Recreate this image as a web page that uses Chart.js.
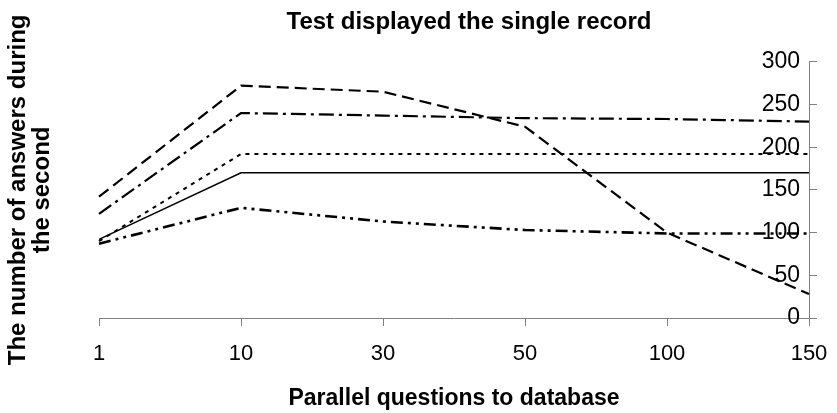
<!DOCTYPE html>
<html>
<head>
<meta charset="utf-8">
<script src="https://cdn.jsdelivr.net/npm/chart.js@4"></script>
<style>
  html, body { margin: 0; padding: 0; background: #fff; }
  #wrap { width: 837px; height: 413px; }
</style>
</head>
<body>
<div id="wrap"><canvas id="myChart" width="837" height="413"></canvas></div>
<script>
'use strict';

// categories on the x axis
let categories = ['1', '10', '30', '50', '100', '150'];

// values, one array per line
let longDash = [142, 272, 265, 224, 100, 28];
let dashDot = [122, 240, 237, 234, 233, 230];
let dotted = [90, 192, 192, 192, 192, 192];
let solid = [92, 170, 170, 170, 170, 170];
let dashDotDot = [87, 129, 113, 103, 99, 99];

let yTicks = [0, 50, 100, 150, 200, 250, 300];

let fontName = '"Liberation Sans", Arial, sans-serif';
let axisGray = '#808080';

function makeLine(label, values, dash, width){
  return {
    label: label,
    data: values,
    borderColor: '#000',
    backgroundColor: '#000',
    borderWidth: width,
    borderDash: dash,
    pointRadius: 0,
    tension: 0,
    fill: false
  };
}

// the title in the picture sits a bit right of the plot centre
const titleShift = {
  id: 'titleShift',
  afterLayout(chart){
    chart.titleBlock.left += 15;
    chart.titleBlock.right += 15;
  }
};

const ctx = document.getElementById('myChart');

new Chart(ctx, {
  type: 'line',
  data: {
    labels: categories,
    datasets: [
      makeLine('long dash', longDash, [12, 6], 2.2),
      makeLine('dash dot', dashDot, [15, 5, 3, 5], 2.2),
      makeLine('dotted', dotted, [4, 5], 2),
      makeLine('solid', solid, [], 1.5),
      makeLine('dash dot dot', dashDotDot, [12, 5, 3, 5, 3, 5], 2.6)
    ]
  },
  plugins: [titleShift],
  options: {
    responsive: false,
    animation: false,
    layout: {
      autoPadding: false,
      padding: 0
    },
    plugins: {
      legend: { display: false },
      tooltip: { enabled: false },
      title: {
        display: true,
        fullSize: false,
        text: 'Test displayed the single record',
        color: '#000',
        font: { family: fontName, size: 24, weight: 'bold', lineHeight: 1.2 },
        padding: { top: 8, bottom: 25 }
      }
    },
    scales: {
      x: {
        type: 'category',
        offset: false,
        grid: {
          drawOnChartArea: false,
          drawTicks: true,
          tickLength: 8,
          color: axisGray
        },
        border: { display: true, color: axisGray, width: 1 },
        ticks: {
          color: '#000',
          font: { family: fontName, size: 22 },
          padding: 15,
          maxRotation: 0
        },
        afterFit: function(scale){
          scale.height = 95;
          // the side axes already leave room for the end labels
          scale.paddingLeft = 0;
          scale.paddingRight = 0;
        },
        title: {
          display: true,
          text: 'Parallel questions to database',
          color: '#000',
          font: { family: fontName, size: 23, weight: 'bold', lineHeight: 1.2 },
          padding: { top: 0, bottom: 1 }
        }
      },
      y: {
        position: 'right',
        min: 0,
        max: 300,
        afterBuildTicks: function(scale){
          scale.ticks = yTicks.map(function(v){ return { value: v }; });
        },
        afterFit: function(scale){
          scale.width = 28;
        },
        grid: {
          drawOnChartArea: false,
          drawTicks: true,
          tickLength: 8,
          color: axisGray
        },
        border: { display: true, color: axisGray, width: 1 },
        ticks: {
          mirror: true,
          padding: -9,
          color: '#000',
          font: { family: fontName, size: 23 }
        }
      },
      yTitle: {
        position: 'left',
        display: true,
        min: 0,
        max: 300,
        grid: { display: false, drawTicks: false },
        border: { display: false },
        ticks: { display: false },
        afterFit: function(scale){
          scale.width = 99;
        },
        title: {
          display: true,
          text: ['The number of answers during', 'the second'],
          color: '#000',
          font: { family: fontName, size: 24, weight: 'bold', lineHeight: 1 },
          padding: { top: 6, bottom: 0 }
        }
      }
    }
  }
});
</script>
</body>
</html>
